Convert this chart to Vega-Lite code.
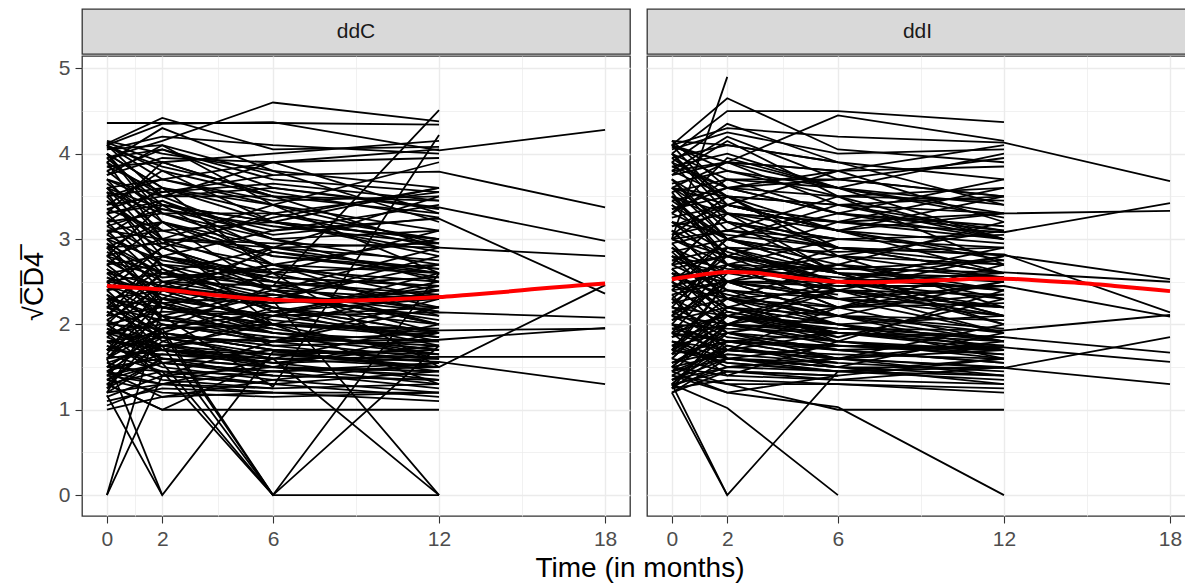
{
"$schema": "https://vega.github.io/schema/vega-lite/v6.json",
"background": "white",
"padding": {"left": 19, "top": 8, "right": 0, "bottom": 0},
"spacing": 15,
"title": {"text": "Time (in months)", "orient": "bottom", "anchor": "middle", "frame": "group", "fontSize": 28, "fontWeight": "normal", "color": "#000000", "font": "Liberation Sans", "offset": 5, "dx": 558},
"datasets": {
"C": [
{"i":1,"t":0,"y":4.36},{"i":1,"t":2,"y":4.36},{"i":1,"t":6,"y":4.36},{"i":1,"t":12,"y":4.34},
{"i":2,"t":0,"y":3.95},{"i":2,"t":2,"y":4.15},{"i":2,"t":6,"y":4.6},{"i":2,"t":12,"y":4.38},
{"i":3,"t":0,"y":4.12},{"i":3,"t":2,"y":4.42},{"i":3,"t":6,"y":4.05},{"i":3,"t":12,"y":4.08},
{"i":4,"t":0,"y":4.1},{"i":4,"t":2,"y":4.35},{"i":4,"t":6,"y":4.37},{"i":4,"t":12,"y":4.04},{"i":4,"t":18,"y":4.28},
{"i":5,"t":0,"y":2.9},{"i":5,"t":2,"y":2.6},{"i":5,"t":6,"y":2.45},{"i":5,"t":12,"y":4.51},
{"i":6,"t":0,"y":2.3},{"i":6,"t":2,"y":2.1},{"i":6,"t":6,"y":1.27},{"i":6,"t":12,"y":4.22},
{"i":7,"t":0,"y":4.05},{"i":7,"t":2,"y":4.1},{"i":7,"t":6,"y":3.75},{"i":7,"t":12,"y":3.79},{"i":7,"t":18,"y":3.37},
{"i":8,"t":0,"y":3.7},{"i":8,"t":2,"y":3.5},{"i":8,"t":6,"y":3.6},{"i":8,"t":12,"y":3.37},{"i":8,"t":18,"y":2.98},
{"i":9,"t":0,"y":3.1},{"i":9,"t":2,"y":3.0},{"i":9,"t":6,"y":2.95},{"i":9,"t":12,"y":2.9},{"i":9,"t":18,"y":2.8},
{"i":10,"t":0,"y":3.3},{"i":10,"t":2,"y":3.4},{"i":10,"t":6,"y":3.1},{"i":10,"t":12,"y":3.24},{"i":10,"t":18,"y":2.36},
{"i":11,"t":0,"y":1.9},{"i":11,"t":2,"y":1.7},{"i":11,"t":6,"y":1.6},{"i":11,"t":12,"y":1.5},{"i":11,"t":18,"y":2.46},
{"i":12,"t":0,"y":2.3},{"i":12,"t":2,"y":2.2},{"i":12,"t":6,"y":2.1},{"i":12,"t":12,"y":2.14},{"i":12,"t":18,"y":2.08},
{"i":13,"t":0,"y":2.0},{"i":13,"t":2,"y":1.95},{"i":13,"t":6,"y":2.0},{"i":13,"t":12,"y":1.93},{"i":13,"t":18,"y":1.95},
{"i":14,"t":0,"y":1.9},{"i":14,"t":2,"y":1.85},{"i":14,"t":6,"y":1.8},{"i":14,"t":12,"y":1.82},{"i":14,"t":18,"y":1.96},
{"i":15,"t":0,"y":1.7},{"i":15,"t":2,"y":1.65},{"i":15,"t":6,"y":1.6},{"i":15,"t":12,"y":1.62},{"i":15,"t":18,"y":1.62},
{"i":16,"t":0,"y":1.8},{"i":16,"t":2,"y":1.7},{"i":16,"t":6,"y":1.65},{"i":16,"t":12,"y":1.56},{"i":16,"t":18,"y":1.3},
{"i":17,"t":0,"y":0},{"i":17,"t":2,"y":2.2},{"i":17,"t":6,"y":2.0},{"i":17,"t":12,"y":1.9},
{"i":18,"t":0,"y":0},{"i":18,"t":2,"y":1.4},{"i":18,"t":6,"y":1.3},
{"i":19,"t":0,"y":1.17},{"i":19,"t":2,"y":0},{"i":19,"t":6,"y":1.68},{"i":19,"t":12,"y":1.5},
{"i":20,"t":0,"y":1.6},{"i":20,"t":2,"y":0},
{"i":21,"t":0,"y":1.0},{"i":21,"t":2,"y":1.15},{"i":21,"t":6,"y":1.2},{"i":21,"t":12,"y":1.2},
{"i":22,"t":0,"y":1.3},{"i":22,"t":2,"y":1.0},{"i":22,"t":6,"y":1.0},{"i":22,"t":12,"y":1.0},
{"i":23,"t":0,"y":2.0},{"i":23,"t":2,"y":1.55},{"i":23,"t":6,"y":0},{"i":23,"t":12,"y":0},
{"i":24,"t":0,"y":1.8},{"i":24,"t":2,"y":1.75},{"i":24,"t":6,"y":0},{"i":24,"t":12,"y":2.6},
{"i":25,"t":0,"y":2.2},{"i":25,"t":2,"y":1.9},{"i":25,"t":6,"y":0},
{"i":26,"t":0,"y":1.5},{"i":26,"t":2,"y":1.45},{"i":26,"t":6,"y":0},{"i":26,"t":12,"y":1.75},
{"i":27,"t":0,"y":2.5},{"i":27,"t":2,"y":2.4},{"i":27,"t":6,"y":2.28},{"i":27,"t":12,"y":0},
{"i":28,"t":0,"y":1.4},{"i":28,"t":2,"y":1.3},{"i":28,"t":6,"y":1.6},{"i":28,"t":12,"y":0},
{"i":29,"t":0,"y":4.15},{"i":29,"t":2,"y":4.0},{"i":29,"t":6,"y":3.8},{"i":29,"t":12,"y":3.6},
{"i":30,"t":0,"y":4.1},{"i":30,"t":2,"y":3.7},{"i":30,"t":6,"y":3.4},{"i":30,"t":12,"y":3.1},
{"i":31,"t":0,"y":4.05},{"i":31,"t":2,"y":4.2},{"i":31,"t":6,"y":4.1},{"i":31,"t":12,"y":4.0},
{"i":32,"t":0,"y":4.0},{"i":32,"t":2,"y":3.6},{"i":32,"t":6,"y":3.3},{"i":32,"t":12,"y":2.9},
{"i":33,"t":0,"y":3.95},{"i":33,"t":2,"y":4.05},{"i":33,"t":6,"y":3.7},{"i":33,"t":12,"y":3.55},
{"i":34,"t":0,"y":3.9},{"i":34,"t":2,"y":3.5},{"i":34,"t":6,"y":3.0},{"i":34,"t":12,"y":2.7},
{"i":35,"t":0,"y":3.85},{"i":35,"t":2,"y":3.9},{"i":35,"t":6,"y":3.5},
{"i":36,"t":0,"y":3.8},{"i":36,"t":2,"y":3.3},{"i":36,"t":6,"y":2.9},{"i":36,"t":12,"y":2.6},
{"i":37,"t":0,"y":3.75},{"i":37,"t":2,"y":3.95},{"i":37,"t":6,"y":3.9},{"i":37,"t":12,"y":3.95},
{"i":38,"t":0,"y":3.7},{"i":38,"t":2,"y":3.4},{"i":38,"t":6,"y":3.2},{"i":38,"t":12,"y":3.0},
{"i":39,"t":0,"y":3.65},{"i":39,"t":2,"y":3.2},{"i":39,"t":6,"y":2.7},{"i":39,"t":12,"y":2.4},
{"i":40,"t":0,"y":3.6},{"i":40,"t":2,"y":3.7},{"i":40,"t":6,"y":3.45},{"i":40,"t":12,"y":3.5},
{"i":41,"t":0,"y":3.55},{"i":41,"t":2,"y":3.3},
{"i":42,"t":0,"y":3.5},{"i":42,"t":2,"y":3.6},{"i":42,"t":6,"y":3.2},{"i":42,"t":12,"y":2.85},
{"i":43,"t":0,"y":3.45},{"i":43,"t":2,"y":3.0},{"i":43,"t":6,"y":2.6},{"i":43,"t":12,"y":2.2},
{"i":44,"t":0,"y":3.4},{"i":44,"t":2,"y":3.5},{"i":44,"t":6,"y":3.5},{"i":44,"t":12,"y":3.45},
{"i":45,"t":0,"y":3.35},{"i":45,"t":2,"y":3.1},{"i":45,"t":6,"y":2.8},{"i":45,"t":12,"y":2.65},
{"i":46,"t":0,"y":3.3},{"i":46,"t":2,"y":3.45},{"i":46,"t":6,"y":3.0},{"i":46,"t":12,"y":3.1},
{"i":47,"t":0,"y":3.25},{"i":47,"t":2,"y":2.9},{"i":47,"t":6,"y":2.5},{"i":47,"t":12,"y":2.0},
{"i":48,"t":0,"y":3.2},{"i":48,"t":2,"y":3.3},{"i":48,"t":6,"y":3.3},{"i":48,"t":12,"y":3.55},
{"i":49,"t":0,"y":3.15},{"i":49,"t":2,"y":2.8},{"i":49,"t":6,"y":2.6},
{"i":50,"t":0,"y":3.1},{"i":50,"t":2,"y":3.2},{"i":50,"t":6,"y":2.9},{"i":50,"t":12,"y":2.75},
{"i":51,"t":0,"y":3.05},{"i":51,"t":2,"y":2.7},{"i":51,"t":6,"y":2.4},{"i":51,"t":12,"y":2.3},
{"i":52,"t":0,"y":3.0},{"i":52,"t":2,"y":3.1},{"i":52,"t":6,"y":3.2},{"i":52,"t":12,"y":3.0},
{"i":53,"t":0,"y":2.95},{"i":53,"t":2,"y":2.6},{"i":53,"t":6,"y":2.2},{"i":53,"t":12,"y":1.9},
{"i":54,"t":0,"y":2.9},{"i":54,"t":2,"y":2.95},{"i":54,"t":6,"y":2.7},{"i":54,"t":12,"y":2.6},
{"i":55,"t":0,"y":2.85},{"i":55,"t":2,"y":2.5},{"i":55,"t":6,"y":2.3},{"i":55,"t":12,"y":2.1},
{"i":56,"t":0,"y":2.8},{"i":56,"t":2,"y":3.0},{"i":56,"t":6,"y":2.9},{"i":56,"t":12,"y":2.95},
{"i":57,"t":0,"y":2.75},{"i":57,"t":2,"y":2.4},{"i":57,"t":6,"y":2.0},
{"i":58,"t":0,"y":2.7},{"i":58,"t":2,"y":2.8},{"i":58,"t":6,"y":2.55},{"i":58,"t":12,"y":2.45},
{"i":59,"t":0,"y":2.65},{"i":59,"t":2,"y":2.3},{"i":59,"t":6,"y":2.1},{"i":59,"t":12,"y":1.85},
{"i":60,"t":0,"y":2.6},{"i":60,"t":2,"y":2.7},{"i":60,"t":6,"y":2.6},{"i":60,"t":12,"y":2.7},
{"i":61,"t":0,"y":2.55},{"i":61,"t":2,"y":2.2},{"i":61,"t":6,"y":1.9},{"i":61,"t":12,"y":1.7},
{"i":62,"t":0,"y":2.5},{"i":62,"t":2,"y":2.6},{"i":62,"t":6,"y":2.35},{"i":62,"t":12,"y":2.2},
{"i":63,"t":0,"y":2.45},{"i":63,"t":2,"y":2.1},
{"i":64,"t":0,"y":2.4},{"i":64,"t":2,"y":2.5},{"i":64,"t":6,"y":2.45},{"i":64,"t":12,"y":2.55},
{"i":65,"t":0,"y":2.35},{"i":65,"t":2,"y":2.0},{"i":65,"t":6,"y":1.8},{"i":65,"t":12,"y":1.6},
{"i":66,"t":0,"y":2.3},{"i":66,"t":2,"y":2.4},{"i":66,"t":6,"y":2.2},{"i":66,"t":12,"y":2.0},
{"i":67,"t":0,"y":2.25},{"i":67,"t":2,"y":1.9},{"i":67,"t":6,"y":1.7},{"i":67,"t":12,"y":1.45},
{"i":68,"t":0,"y":2.2},{"i":68,"t":2,"y":2.3},{"i":68,"t":6,"y":2.25},{"i":68,"t":12,"y":2.35},
{"i":69,"t":0,"y":2.15},{"i":69,"t":2,"y":1.85},{"i":69,"t":6,"y":1.6},
{"i":70,"t":0,"y":2.1},{"i":70,"t":2,"y":2.2},{"i":70,"t":6,"y":2.0},{"i":70,"t":12,"y":1.95},
{"i":71,"t":0,"y":2.05},{"i":71,"t":2,"y":1.75},{"i":71,"t":6,"y":1.55},{"i":71,"t":12,"y":1.35},
{"i":72,"t":0,"y":2.0},{"i":72,"t":2,"y":2.15},{"i":72,"t":6,"y":2.1},{"i":72,"t":12,"y":2.2},
{"i":73,"t":0,"y":1.95},{"i":73,"t":2,"y":1.7},{"i":73,"t":6,"y":1.5},{"i":73,"t":12,"y":1.4},
{"i":74,"t":0,"y":1.9},{"i":74,"t":2,"y":2.0},{"i":74,"t":6,"y":1.85},{"i":74,"t":12,"y":1.75},
{"i":75,"t":0,"y":1.85},{"i":75,"t":2,"y":1.6},
{"i":76,"t":0,"y":1.8},{"i":76,"t":2,"y":1.9},{"i":76,"t":6,"y":1.75},{"i":76,"t":12,"y":1.8},
{"i":77,"t":0,"y":1.75},{"i":77,"t":2,"y":1.5},{"i":77,"t":6,"y":1.35},{"i":77,"t":12,"y":1.2},
{"i":78,"t":0,"y":1.7},{"i":78,"t":2,"y":1.85},{"i":78,"t":6,"y":1.8},{"i":78,"t":12,"y":1.9},
{"i":79,"t":0,"y":1.65},{"i":79,"t":2,"y":1.45},{"i":79,"t":6,"y":1.3},{"i":79,"t":12,"y":1.15},
{"i":80,"t":0,"y":1.6},{"i":80,"t":2,"y":1.7},{"i":80,"t":6,"y":1.55},{"i":80,"t":12,"y":1.6},
{"i":81,"t":0,"y":1.55},{"i":81,"t":2,"y":1.35},{"i":81,"t":6,"y":1.25},
{"i":82,"t":0,"y":1.5},{"i":82,"t":2,"y":1.6},{"i":82,"t":6,"y":1.5},{"i":82,"t":12,"y":1.45},
{"i":83,"t":0,"y":1.45},{"i":83,"t":2,"y":1.3},{"i":83,"t":6,"y":1.2},{"i":83,"t":12,"y":1.1},
{"i":84,"t":0,"y":1.4},{"i":84,"t":2,"y":1.55},{"i":84,"t":6,"y":1.45},{"i":84,"t":12,"y":1.5},
{"i":85,"t":0,"y":1.35},{"i":85,"t":2,"y":1.2},{"i":85,"t":6,"y":1.15},{"i":85,"t":12,"y":1.2},
{"i":86,"t":0,"y":1.3},{"i":86,"t":2,"y":1.45},{"i":86,"t":6,"y":1.4},{"i":86,"t":12,"y":1.35},
{"i":87,"t":0,"y":1.2},{"i":87,"t":2,"y":1.3},{"i":87,"t":6,"y":1.25},{"i":87,"t":12,"y":1.3},
{"i":88,"t":0,"y":1.1},{"i":88,"t":2,"y":1.25},{"i":88,"t":6,"y":1.2},
{"i":89,"t":0,"y":2.0},{"i":89,"t":2,"y":2.6},{"i":89,"t":6,"y":2.3},{"i":89,"t":12,"y":2.8},
{"i":90,"t":0,"y":1.6},{"i":90,"t":2,"y":2.3},{"i":90,"t":6,"y":2.1},{"i":90,"t":12,"y":2.5},
{"i":91,"t":0,"y":2.4},{"i":91,"t":2,"y":1.8},{"i":91,"t":6,"y":2.2},{"i":91,"t":12,"y":1.9},
{"i":92,"t":0,"y":3.0},{"i":92,"t":2,"y":2.4},{"i":92,"t":6,"y":2.7},{"i":92,"t":12,"y":2.3},
{"i":93,"t":0,"y":1.4},{"i":93,"t":2,"y":2.0},{"i":93,"t":6,"y":1.8},{"i":93,"t":12,"y":2.2},
{"i":94,"t":0,"y":3.6},{"i":94,"t":2,"y":2.9},{"i":94,"t":6,"y":2.4},{"i":94,"t":12,"y":2.0},
{"i":95,"t":0,"y":4.0},{"i":95,"t":2,"y":3.3},{"i":95,"t":6,"y":3.0},{"i":95,"t":12,"y":2.5},
{"i":96,"t":0,"y":2.8},{"i":96,"t":2,"y":3.4},{"i":96,"t":6,"y":3.2},{"i":96,"t":12,"y":3.6},
{"i":97,"t":0,"y":1.9},{"i":97,"t":2,"y":2.5},{"i":97,"t":6,"y":2.7},{"i":97,"t":12,"y":3.0},
{"i":98,"t":0,"y":2.5},{"i":98,"t":2,"y":1.9},{"i":98,"t":6,"y":1.7},{"i":98,"t":12,"y":1.6},
{"i":99,"t":0,"y":3.3},{"i":99,"t":2,"y":2.7},{"i":99,"t":6,"y":2.2},{"i":99,"t":12,"y":1.8},
{"i":100,"t":0,"y":1.7},{"i":100,"t":2,"y":2.1},{"i":100,"t":6,"y":2.4},{"i":100,"t":12,"y":2.9},
{"i":101,"t":0,"y":4.1},{"i":101,"t":2,"y":3.8},{"i":101,"t":6,"y":3.2},{"i":101,"t":12,"y":2.8},
{"i":102,"t":0,"y":2.2},{"i":102,"t":2,"y":2.8},{"i":102,"t":6,"y":2.5},{"i":102,"t":12,"y":2.3},
{"i":103,"t":0,"y":1.5},{"i":103,"t":2,"y":1.9},{"i":103,"t":6,"y":1.7},{"i":103,"t":12,"y":1.65},
{"i":104,"t":0,"y":3.8},{"i":104,"t":2,"y":4.05},{"i":104,"t":6,"y":3.6},{"i":104,"t":12,"y":3.35},
{"i":105,"t":0,"y":2.6},{"i":105,"t":2,"y":2.1},{"i":105,"t":6,"y":1.9},{"i":105,"t":12,"y":1.7},
{"i":106,"t":0,"y":1.25},{"i":106,"t":2,"y":1.6},{"i":106,"t":6,"y":1.5},{"i":106,"t":12,"y":1.45},
{"i":107,"t":0,"y":3.4},{"i":107,"t":2,"y":3.8},{"i":107,"t":6,"y":3.5},{"i":107,"t":12,"y":3.3},
{"i":108,"t":0,"y":2.7},{"i":108,"t":2,"y":2.2},{"i":108,"t":6,"y":2.0},
{"i":109,"t":0,"y":1.45},{"i":109,"t":2,"y":1.85},{"i":109,"t":6,"y":1.6},
{"i":110,"t":0,"y":2.1},{"i":110,"t":2,"y":2.6},
{"i":111,"t":0,"y":3.2},{"i":111,"t":2,"y":3.6},{"i":111,"t":6,"y":3.4},{"i":111,"t":12,"y":3.9},
{"i":112,"t":0,"y":1.8},{"i":112,"t":2,"y":1.4},{"i":112,"t":6,"y":1.5},{"i":112,"t":12,"y":1.3},
{"i":113,"t":0,"y":2.9},{"i":113,"t":2,"y":3.2},{"i":113,"t":6,"y":2.8},{"i":113,"t":12,"y":2.6},
{"i":114,"t":0,"y":1.35},{"i":114,"t":2,"y":1.75},{"i":114,"t":6,"y":2.0},{"i":114,"t":12,"y":1.85},
{"i":115,"t":0,"y":4.13},{"i":115,"t":2,"y":3.9},{"i":115,"t":6,"y":4.0},{"i":115,"t":12,"y":4.15},
{"i":116,"t":0,"y":1.6},{"i":116,"t":2,"y":1.95},{"i":116,"t":6,"y":0},
{"i":117,"t":0,"y":4.0},{"i":117,"t":2,"y":3.6},{"i":117,"t":6,"y":2.6},{"i":117,"t":12,"y":1.5},
{"i":118,"t":0,"y":3.9},{"i":118,"t":2,"y":3.0},{"i":118,"t":6,"y":2.0},{"i":118,"t":12,"y":1.3},
{"i":119,"t":0,"y":1.2},{"i":119,"t":2,"y":2.3},{"i":119,"t":6,"y":2.9},{"i":119,"t":12,"y":3.5},
{"i":120,"t":0,"y":1.3},{"i":120,"t":2,"y":1.0},{"i":120,"t":6,"y":1.6},{"i":120,"t":12,"y":2.0},
{"i":121,"t":0,"y":3.5},{"i":121,"t":2,"y":3.7},{"i":121,"t":6,"y":3.9},{"i":121,"t":12,"y":4.05},
{"i":122,"t":0,"y":4.1},{"i":122,"t":2,"y":3.5},{"i":122,"t":6,"y":3.9},{"i":122,"t":12,"y":3.3},
{"i":123,"t":0,"y":3.9},{"i":123,"t":2,"y":4.3},{"i":123,"t":6,"y":3.8},{"i":123,"t":12,"y":3.2},
{"i":124,"t":0,"y":3.7},{"i":124,"t":2,"y":3.0},{"i":124,"t":6,"y":3.4},{"i":124,"t":12,"y":2.6},
{"i":125,"t":0,"y":3.5},{"i":125,"t":2,"y":2.8},{"i":125,"t":6,"y":3.1},{"i":125,"t":12,"y":3.4},
{"i":126,"t":0,"y":3.3},{"i":126,"t":2,"y":3.9},{"i":126,"t":6,"y":3.5},{"i":126,"t":12,"y":2.9},
{"i":127,"t":0,"y":3.1},{"i":127,"t":2,"y":2.5},{"i":127,"t":6,"y":2.0},{"i":127,"t":12,"y":2.4},
{"i":128,"t":0,"y":2.9},{"i":128,"t":2,"y":2.2},{"i":128,"t":6,"y":2.6},{"i":128,"t":12,"y":3.1},
{"i":129,"t":0,"y":2.7},{"i":129,"t":2,"y":3.2},{"i":129,"t":6,"y":2.4},{"i":129,"t":12,"y":2.0},
{"i":130,"t":0,"y":2.5},{"i":130,"t":2,"y":2.9},{"i":130,"t":6,"y":3.3},{"i":130,"t":12,"y":3.0},
{"i":131,"t":0,"y":2.3},{"i":131,"t":2,"y":1.7},{"i":131,"t":6,"y":2.1},{"i":131,"t":12,"y":2.6},
{"i":132,"t":0,"y":2.1},{"i":132,"t":2,"y":2.8},{"i":132,"t":6,"y":2.4},{"i":132,"t":12,"y":1.9},
{"i":133,"t":0,"y":1.9},{"i":133,"t":2,"y":1.4},{"i":133,"t":6,"y":1.8},{"i":133,"t":12,"y":2.3},
{"i":134,"t":0,"y":1.7},{"i":134,"t":2,"y":2.4},{"i":134,"t":6,"y":2.0},{"i":134,"t":12,"y":1.6},
{"i":135,"t":0,"y":1.5},{"i":135,"t":2,"y":1.9},{"i":135,"t":6,"y":2.3},{"i":135,"t":12,"y":2.7},
{"i":136,"t":0,"y":1.3},{"i":136,"t":2,"y":1.8},{"i":136,"t":6,"y":1.5},{"i":136,"t":12,"y":1.9},
{"i":137,"t":0,"y":4.0},{"i":137,"t":2,"y":3.2},{"i":137,"t":6,"y":2.8},
{"i":138,"t":0,"y":3.6},{"i":138,"t":2,"y":3.1},
{"i":139,"t":0,"y":3.2},{"i":139,"t":2,"y":2.6},{"i":139,"t":6,"y":2.9},
{"i":140,"t":0,"y":2.8},{"i":140,"t":2,"y":2.3},{"i":140,"t":6,"y":1.9},
{"i":141,"t":0,"y":2.4},{"i":141,"t":2,"y":2.9},{"i":141,"t":6,"y":2.5},
{"i":142,"t":0,"y":2.0},{"i":142,"t":2,"y":1.6},{"i":142,"t":6,"y":1.4},
{"i":143,"t":0,"y":1.6},{"i":143,"t":2,"y":2.1},{"i":143,"t":6,"y":1.8},
{"i":144,"t":0,"y":1.2},{"i":144,"t":2,"y":1.6},
{"i":145,"t":0,"y":3.95},{"i":145,"t":2,"y":3.4},{"i":145,"t":6,"y":2.7},{"i":145,"t":12,"y":2.1},
{"i":146,"t":0,"y":3.75},{"i":146,"t":2,"y":4.1},{"i":146,"t":6,"y":3.4},{"i":146,"t":12,"y":2.95},
{"i":147,"t":0,"y":3.45},{"i":147,"t":2,"y":2.95},{"i":147,"t":6,"y":3.25},{"i":147,"t":12,"y":3.6},
{"i":148,"t":0,"y":3.05},{"i":148,"t":2,"y":3.45},{"i":148,"t":6,"y":2.85},{"i":148,"t":12,"y":2.55},
{"i":149,"t":0,"y":2.65},{"i":149,"t":2,"y":2.05},{"i":149,"t":6,"y":2.35},{"i":149,"t":12,"y":2.05},
{"i":150,"t":0,"y":2.25},{"i":150,"t":2,"y":2.65},{"i":150,"t":6,"y":2.15},{"i":150,"t":12,"y":2.45},
{"i":151,"t":0,"y":1.85},{"i":151,"t":2,"y":2.25},{"i":151,"t":6,"y":1.95},{"i":151,"t":12,"y":1.65},
{"i":152,"t":0,"y":1.45},{"i":152,"t":2,"y":1.15},{"i":152,"t":6,"y":1.35},{"i":152,"t":12,"y":1.55},
{"i":153,"t":0,"y":2.35},{"i":153,"t":2,"y":1.55},{"i":153,"t":6,"y":1.45},{"i":153,"t":12,"y":1.25},
{"i":154,"t":0,"y":2.95},{"i":154,"t":2,"y":2.25},{"i":154,"t":6,"y":1.75},{"i":154,"t":12,"y":1.55},
{"i":155,"t":0,"y":3.55},{"i":155,"t":2,"y":2.65},{"i":155,"t":6,"y":2.15},{"i":155,"t":12,"y":1.75},
{"i":156,"t":0,"y":1.65},{"i":156,"t":2,"y":2.45},{"i":156,"t":6,"y":2.85},{"i":156,"t":12,"y":2.65},
{"i":157,"t":0,"y":1.25},{"i":157,"t":2,"y":1.95},{"i":157,"t":6,"y":2.45},{"i":157,"t":12,"y":2.15},
{"i":158,"t":0,"y":2.15},{"i":158,"t":2,"y":1.85},{"i":158,"t":6,"y":1.65},{"i":158,"t":12,"y":1.5},
{"i":159,"t":0,"y":2.55},{"i":159,"t":2,"y":2.35},{"i":159,"t":6,"y":2.05},{"i":159,"t":12,"y":1.85},
{"i":160,"t":0,"y":1.75},{"i":160,"t":2,"y":1.55},{"i":160,"t":6,"y":1.4},{"i":160,"t":12,"y":1.35},
{"i":161,"t":0,"y":1.95},{"i":161,"t":2,"y":1.75},{"i":161,"t":6,"y":1.85},{"i":161,"t":12,"y":1.65},
{"i":162,"t":0,"y":2.45},{"i":162,"t":2,"y":2.25},{"i":162,"t":6,"y":2.35},{"i":162,"t":12,"y":2.15},
{"i":163,"t":0,"y":3.15},{"i":163,"t":2,"y":3.35},{"i":163,"t":6,"y":3.05},{"i":163,"t":12,"y":3.25},
{"i":164,"t":0,"y":3.85},{"i":164,"t":2,"y":3.55},{"i":164,"t":6,"y":3.65},{"i":164,"t":12,"y":3.45},
{"i":165,"t":0,"y":2.05},{"i":165,"t":2,"y":2.45},{"i":165,"t":6,"y":2.25},{"i":165,"t":12,"y":2.4},
{"i":166,"t":0,"y":1.55},{"i":166,"t":2,"y":1.75},{"i":166,"t":6,"y":1.65},{"i":166,"t":12,"y":1.7},
{"i":167,"t":0,"y":2.75},{"i":167,"t":2,"y":2.55},{"i":167,"t":6,"y":2.65},{"i":167,"t":12,"y":2.5},
{"i":168,"t":0,"y":1.35},{"i":168,"t":2,"y":1.55},{"i":168,"t":6,"y":1.7},{"i":168,"t":12,"y":1.6},
{"i":169,"t":0,"y":1.15},{"i":169,"t":2,"y":1.4},{"i":169,"t":6,"y":1.3},{"i":169,"t":12,"y":1.45},
{"i":170,"t":0,"y":2.6},{"i":170,"t":2,"y":2.45},{"i":170,"t":6,"y":2.3},
{"i":171,"t":0,"y":1.9},{"i":171,"t":2,"y":2.05},{"i":171,"t":6,"y":1.95},
{"i":172,"t":0,"y":3.35},{"i":172,"t":2,"y":3.55},{"i":172,"t":6,"y":3.75},
{"i":173,"t":0,"y":4.08},{"i":173,"t":2,"y":3.85},{"i":173,"t":6,"y":3.55},{"i":173,"t":12,"y":3.25},
{"i":174,"t":0,"y":1.05},{"i":174,"t":2,"y":1.3},{"i":174,"t":6,"y":1.45},{"i":174,"t":12,"y":1.55},
{"i":175,"t":0,"y":2.8},{"i":175,"t":2,"y":2.6},{"i":175,"t":6,"y":2.5},{"i":175,"t":12,"y":2.35},
{"i":176,"t":0,"y":3.6},{"i":176,"t":2,"y":3.35},{"i":176,"t":6,"y":3.15},{"i":176,"t":12,"y":2.95},
{"i":177,"t":0,"y":1.45},{"i":177,"t":2,"y":1.65},{"i":177,"t":6,"y":1.55},{"i":177,"t":12,"y":1.75},
{"i":178,"t":0,"y":2.2},{"i":178,"t":2,"y":2.05},{"i":178,"t":6,"y":1.9},{"i":178,"t":12,"y":1.8},
{"i":179,"t":0,"y":1.7},{"i":179,"t":2,"y":1.95},{"i":179,"t":6,"y":2.15},{"i":179,"t":12,"y":2.3},
{"i":180,"t":0,"y":3.0},{"i":180,"t":2,"y":2.75},{"i":180,"t":6,"y":2.55},{"i":180,"t":12,"y":2.45}
],
"I": [
{"i":1,"t":0,"y":3.0},{"i":1,"t":2,"y":4.9},
{"i":2,"t":0,"y":4.1},{"i":2,"t":2,"y":4.65},{"i":2,"t":6,"y":4.05},{"i":2,"t":12,"y":3.9},
{"i":3,"t":0,"y":4.0},{"i":3,"t":2,"y":4.5},{"i":3,"t":6,"y":4.5},{"i":3,"t":12,"y":4.37},
{"i":4,"t":0,"y":3.8},{"i":4,"t":2,"y":3.9},{"i":4,"t":6,"y":4.45},{"i":4,"t":12,"y":4.15},
{"i":5,"t":0,"y":4.1},{"i":5,"t":2,"y":4.3},{"i":5,"t":6,"y":4.2},{"i":5,"t":12,"y":4.13},{"i":5,"t":18,"y":3.68},
{"i":6,"t":0,"y":3.5},{"i":6,"t":2,"y":3.3},{"i":6,"t":6,"y":3.2},{"i":6,"t":12,"y":3.08},{"i":6,"t":18,"y":3.42},
{"i":7,"t":0,"y":3.6},{"i":7,"t":2,"y":3.5},{"i":7,"t":6,"y":3.4},{"i":7,"t":12,"y":3.3},{"i":7,"t":18,"y":3.33},
{"i":8,"t":0,"y":3.0},{"i":8,"t":2,"y":3.1},{"i":8,"t":6,"y":2.9},{"i":8,"t":12,"y":2.81},{"i":8,"t":18,"y":2.53},
{"i":9,"t":0,"y":2.7},{"i":9,"t":2,"y":2.8},{"i":9,"t":6,"y":2.65},{"i":9,"t":12,"y":2.61},{"i":9,"t":18,"y":2.5},
{"i":10,"t":0,"y":3.2},{"i":10,"t":2,"y":3.05},{"i":10,"t":6,"y":2.9},{"i":10,"t":12,"y":2.82},{"i":10,"t":18,"y":2.14},
{"i":11,"t":0,"y":2.4},{"i":11,"t":2,"y":2.5},{"i":11,"t":6,"y":2.45},{"i":11,"t":12,"y":2.45},{"i":11,"t":18,"y":2.09},
{"i":12,"t":0,"y":1.8},{"i":12,"t":2,"y":1.7},{"i":12,"t":6,"y":1.6},{"i":12,"t":12,"y":1.49},{"i":12,"t":18,"y":1.85},
{"i":13,"t":0,"y":2.0},{"i":13,"t":2,"y":1.95},{"i":13,"t":6,"y":1.9},{"i":13,"t":12,"y":1.85},{"i":13,"t":18,"y":1.67},
{"i":14,"t":0,"y":1.9},{"i":14,"t":2,"y":1.8},{"i":14,"t":6,"y":1.75},{"i":14,"t":12,"y":1.73},{"i":14,"t":18,"y":1.56},
{"i":15,"t":0,"y":1.7},{"i":15,"t":2,"y":1.6},{"i":15,"t":6,"y":1.5},{"i":15,"t":12,"y":1.49},{"i":15,"t":18,"y":1.3},
{"i":16,"t":0,"y":2.1},{"i":16,"t":2,"y":2.0},{"i":16,"t":6,"y":1.95},{"i":16,"t":12,"y":1.93},{"i":16,"t":18,"y":2.11},
{"i":17,"t":0,"y":1.3},{"i":17,"t":2,"y":0},{"i":17,"t":6,"y":1.45},{"i":17,"t":12,"y":1.6},
{"i":18,"t":0,"y":1.2},{"i":18,"t":2,"y":0},
{"i":19,"t":0,"y":1.3},{"i":19,"t":2,"y":1.02},{"i":19,"t":6,"y":0},
{"i":20,"t":0,"y":1.4},{"i":20,"t":2,"y":1.2},{"i":20,"t":6,"y":1.03},{"i":20,"t":12,"y":0},
{"i":21,"t":0,"y":1.5},{"i":21,"t":2,"y":1.3},{"i":21,"t":6,"y":1.0},{"i":21,"t":12,"y":1.0},
{"i":22,"t":0,"y":4.15},{"i":22,"t":2,"y":4.1},{"i":22,"t":6,"y":3.9},{"i":22,"t":12,"y":3.7},
{"i":23,"t":0,"y":4.1},{"i":23,"t":2,"y":3.8},{"i":23,"t":6,"y":3.6},{"i":23,"t":12,"y":3.4},
{"i":24,"t":0,"y":4.05},{"i":24,"t":2,"y":4.25},{"i":24,"t":6,"y":4.0},{"i":24,"t":12,"y":4.05},
{"i":25,"t":0,"y":4.0},{"i":25,"t":2,"y":3.7},{"i":25,"t":6,"y":3.3},{"i":25,"t":12,"y":3.0},
{"i":26,"t":0,"y":3.95},{"i":26,"t":2,"y":4.1},{"i":26,"t":6,"y":3.9},
{"i":27,"t":0,"y":3.9},{"i":27,"t":2,"y":3.6},{"i":27,"t":6,"y":3.5},{"i":27,"t":12,"y":3.45},
{"i":28,"t":0,"y":3.85},{"i":28,"t":2,"y":4.0},{"i":28,"t":6,"y":3.6},{"i":28,"t":12,"y":3.25},
{"i":29,"t":0,"y":3.8},{"i":29,"t":2,"y":3.5},{"i":29,"t":6,"y":3.1},{"i":29,"t":12,"y":2.75},
{"i":30,"t":0,"y":3.75},{"i":30,"t":2,"y":3.9},{"i":30,"t":6,"y":3.8},{"i":30,"t":12,"y":3.85},
{"i":31,"t":0,"y":3.7},{"i":31,"t":2,"y":3.3},
{"i":32,"t":0,"y":3.65},{"i":32,"t":2,"y":3.8},{"i":32,"t":6,"y":3.5},{"i":32,"t":12,"y":3.6},
{"i":33,"t":0,"y":3.6},{"i":33,"t":2,"y":3.2},{"i":33,"t":6,"y":2.9},{"i":33,"t":12,"y":2.6},
{"i":34,"t":0,"y":3.55},{"i":34,"t":2,"y":3.7},{"i":34,"t":6,"y":3.7},{"i":34,"t":12,"y":3.95},
{"i":35,"t":0,"y":3.5},{"i":35,"t":2,"y":3.2},{"i":35,"t":6,"y":3.0},
{"i":36,"t":0,"y":3.45},{"i":36,"t":2,"y":3.6},{"i":36,"t":6,"y":3.3},{"i":36,"t":12,"y":3.15},
{"i":37,"t":0,"y":3.4},{"i":37,"t":2,"y":3.0},{"i":37,"t":6,"y":2.7},{"i":37,"t":12,"y":2.4},
{"i":38,"t":0,"y":3.35},{"i":38,"t":2,"y":3.5},{"i":38,"t":6,"y":3.4},{"i":38,"t":12,"y":3.5},
{"i":39,"t":0,"y":3.3},{"i":39,"t":2,"y":3.0},{"i":39,"t":6,"y":2.8},{"i":39,"t":12,"y":2.55},
{"i":40,"t":0,"y":3.25},{"i":40,"t":2,"y":3.4},{"i":40,"t":6,"y":3.1},{"i":40,"t":12,"y":2.95},
{"i":41,"t":0,"y":3.2},{"i":41,"t":2,"y":2.85},{"i":41,"t":6,"y":2.5},
{"i":42,"t":0,"y":3.15},{"i":42,"t":2,"y":3.3},{"i":42,"t":6,"y":3.2},{"i":42,"t":12,"y":3.3},
{"i":43,"t":0,"y":3.1},{"i":43,"t":2,"y":2.8},{"i":43,"t":6,"y":2.5},{"i":43,"t":12,"y":2.3},
{"i":44,"t":0,"y":3.05},{"i":44,"t":2,"y":3.2},{"i":44,"t":6,"y":3.0},{"i":44,"t":12,"y":2.9},
{"i":45,"t":0,"y":3.0},{"i":45,"t":2,"y":2.7},{"i":45,"t":6,"y":2.4},{"i":45,"t":12,"y":2.2},
{"i":46,"t":0,"y":2.95},{"i":46,"t":2,"y":3.1},{"i":46,"t":6,"y":3.0},{"i":46,"t":12,"y":3.05},
{"i":47,"t":0,"y":2.9},{"i":47,"t":2,"y":2.6},
{"i":48,"t":0,"y":2.85},{"i":48,"t":2,"y":3.0},{"i":48,"t":6,"y":2.8},{"i":48,"t":12,"y":2.7},
{"i":49,"t":0,"y":2.8},{"i":49,"t":2,"y":2.5},{"i":49,"t":6,"y":2.3},{"i":49,"t":12,"y":2.1},
{"i":50,"t":0,"y":2.75},{"i":50,"t":2,"y":2.9},{"i":50,"t":6,"y":2.85},{"i":50,"t":12,"y":2.9},
{"i":51,"t":0,"y":2.7},{"i":51,"t":2,"y":2.4},{"i":51,"t":6,"y":2.2},
{"i":52,"t":0,"y":2.65},{"i":52,"t":2,"y":2.8},{"i":52,"t":6,"y":2.6},{"i":52,"t":12,"y":2.55},
{"i":53,"t":0,"y":2.6},{"i":53,"t":2,"y":2.3},{"i":53,"t":6,"y":2.1},{"i":53,"t":12,"y":1.95},
{"i":54,"t":0,"y":2.55},{"i":54,"t":2,"y":2.7},{"i":54,"t":6,"y":2.65},{"i":54,"t":12,"y":2.75},
{"i":55,"t":0,"y":2.5},{"i":55,"t":2,"y":2.2},{"i":55,"t":6,"y":2.0},{"i":55,"t":12,"y":1.8},
{"i":56,"t":0,"y":2.45},{"i":56,"t":2,"y":2.6},{"i":56,"t":6,"y":2.4},{"i":56,"t":12,"y":2.35},
{"i":57,"t":0,"y":2.4},{"i":57,"t":2,"y":2.1},{"i":57,"t":6,"y":1.9},
{"i":58,"t":0,"y":2.35},{"i":58,"t":2,"y":2.5},{"i":58,"t":6,"y":2.5},{"i":58,"t":12,"y":2.6},
{"i":59,"t":0,"y":2.3},{"i":59,"t":2,"y":2.0},{"i":59,"t":6,"y":1.8},{"i":59,"t":12,"y":1.65},
{"i":60,"t":0,"y":2.25},{"i":60,"t":2,"y":2.4},{"i":60,"t":6,"y":2.3},{"i":60,"t":12,"y":2.2},
{"i":61,"t":0,"y":2.2},{"i":61,"t":2,"y":1.9},{"i":61,"t":6,"y":1.7},{"i":61,"t":12,"y":1.55},
{"i":62,"t":0,"y":2.15},{"i":62,"t":2,"y":2.3},{"i":62,"t":6,"y":2.2},{"i":62,"t":12,"y":2.25},
{"i":63,"t":0,"y":2.1},{"i":63,"t":2,"y":1.8},{"i":63,"t":6,"y":1.6},
{"i":64,"t":0,"y":2.05},{"i":64,"t":2,"y":2.2},{"i":64,"t":6,"y":2.1},{"i":64,"t":12,"y":2.05},
{"i":65,"t":0,"y":2.0},{"i":65,"t":2,"y":1.75},{"i":65,"t":6,"y":1.55},{"i":65,"t":12,"y":1.45},
{"i":66,"t":0,"y":1.95},{"i":66,"t":2,"y":2.1},{"i":66,"t":6,"y":2.0},{"i":66,"t":12,"y":2.1},
{"i":67,"t":0,"y":1.9},{"i":67,"t":2,"y":1.7},{"i":67,"t":6,"y":1.6},
{"i":68,"t":0,"y":1.85},{"i":68,"t":2,"y":2.0},{"i":68,"t":6,"y":1.9},{"i":68,"t":12,"y":1.85},
{"i":69,"t":0,"y":1.8},{"i":69,"t":2,"y":1.6},{"i":69,"t":6,"y":1.5},{"i":69,"t":12,"y":1.4},
{"i":70,"t":0,"y":1.75},{"i":70,"t":2,"y":1.9},{"i":70,"t":6,"y":1.8},
{"i":71,"t":0,"y":1.7},{"i":71,"t":2,"y":1.55},{"i":71,"t":6,"y":1.45},{"i":71,"t":12,"y":1.35},
{"i":72,"t":0,"y":1.65},{"i":72,"t":2,"y":1.8},{"i":72,"t":6,"y":1.75},{"i":72,"t":12,"y":1.7},
{"i":73,"t":0,"y":1.6},{"i":73,"t":2,"y":1.45},{"i":73,"t":6,"y":1.4},
{"i":74,"t":0,"y":1.55},{"i":74,"t":2,"y":1.7},{"i":74,"t":6,"y":1.65},{"i":74,"t":12,"y":1.6},
{"i":75,"t":0,"y":1.5},{"i":75,"t":2,"y":1.4},{"i":75,"t":6,"y":1.35},{"i":75,"t":12,"y":1.3},
{"i":76,"t":0,"y":1.45},{"i":76,"t":2,"y":1.6},{"i":76,"t":6,"y":1.55},
{"i":77,"t":0,"y":1.4},{"i":77,"t":2,"y":1.3},{"i":77,"t":6,"y":1.3},{"i":77,"t":12,"y":1.25},
{"i":78,"t":0,"y":1.35},{"i":78,"t":2,"y":1.5},{"i":78,"t":6,"y":1.45},{"i":78,"t":12,"y":1.5},
{"i":79,"t":0,"y":1.3},{"i":79,"t":2,"y":1.45},{"i":79,"t":6,"y":1.4},
{"i":80,"t":0,"y":1.25},{"i":80,"t":2,"y":1.35},{"i":80,"t":6,"y":1.3},{"i":80,"t":12,"y":1.2},
{"i":81,"t":0,"y":2.0},{"i":81,"t":2,"y":2.7},{"i":81,"t":6,"y":2.5},{"i":81,"t":12,"y":2.9},
{"i":82,"t":0,"y":1.6},{"i":82,"t":2,"y":2.2},{"i":82,"t":6,"y":2.0},
{"i":83,"t":0,"y":2.5},{"i":83,"t":2,"y":1.9},{"i":83,"t":6,"y":2.1},{"i":83,"t":12,"y":1.8},
{"i":84,"t":0,"y":3.1},{"i":84,"t":2,"y":2.5},{"i":84,"t":6,"y":2.7},{"i":84,"t":12,"y":2.3},
{"i":85,"t":0,"y":1.5},{"i":85,"t":2,"y":2.1},{"i":85,"t":6,"y":1.85},{"i":85,"t":12,"y":2.3},
{"i":86,"t":0,"y":3.7},{"i":86,"t":2,"y":3.0},{"i":86,"t":6,"y":2.6},{"i":86,"t":12,"y":2.1},
{"i":87,"t":0,"y":4.0},{"i":87,"t":2,"y":3.4},{"i":87,"t":6,"y":3.1},{"i":87,"t":12,"y":2.6},
{"i":88,"t":0,"y":2.7},{"i":88,"t":2,"y":3.3},{"i":88,"t":6,"y":3.1},{"i":88,"t":12,"y":3.5},
{"i":89,"t":0,"y":1.9},{"i":89,"t":2,"y":2.6},{"i":89,"t":6,"y":2.8},{"i":89,"t":12,"y":3.1},
{"i":90,"t":0,"y":2.6},{"i":90,"t":2,"y":2.0},{"i":90,"t":6,"y":1.8},{"i":90,"t":12,"y":1.7},
{"i":91,"t":0,"y":3.4},{"i":91,"t":2,"y":2.8},{"i":91,"t":6,"y":2.3},{"i":91,"t":12,"y":1.9},
{"i":92,"t":0,"y":1.7},{"i":92,"t":2,"y":2.2},{"i":92,"t":6,"y":2.5},{"i":92,"t":12,"y":2.8},
{"i":93,"t":0,"y":4.1},{"i":93,"t":2,"y":3.9},{"i":93,"t":6,"y":3.4},{"i":93,"t":12,"y":3.0},
{"i":94,"t":0,"y":2.2},{"i":94,"t":2,"y":2.9},{"i":94,"t":6,"y":2.6},
{"i":95,"t":0,"y":1.45},{"i":95,"t":2,"y":2.0},{"i":95,"t":6,"y":1.75},
{"i":96,"t":0,"y":3.8},{"i":96,"t":2,"y":4.2},{"i":96,"t":6,"y":3.7},{"i":96,"t":12,"y":3.5},
{"i":97,"t":0,"y":2.65},{"i":97,"t":2,"y":2.15},{"i":97,"t":6,"y":1.9},{"i":97,"t":12,"y":1.75},
{"i":98,"t":0,"y":1.3},{"i":98,"t":2,"y":1.8},{"i":98,"t":6,"y":1.6},{"i":98,"t":12,"y":1.5},
{"i":99,"t":0,"y":3.3},{"i":99,"t":2,"y":3.7},{"i":99,"t":6,"y":3.6},{"i":99,"t":12,"y":4.0},
{"i":100,"t":0,"y":2.85},{"i":100,"t":2,"y":2.3},{"i":100,"t":6,"y":2.1},
{"i":101,"t":0,"y":1.65},{"i":101,"t":2,"y":2.1},{"i":101,"t":6,"y":1.8},
{"i":102,"t":0,"y":3.9},{"i":102,"t":2,"y":3.2},{"i":102,"t":6,"y":2.6},{"i":102,"t":12,"y":2.0},
{"i":103,"t":0,"y":2.3},{"i":103,"t":2,"y":2.8},{"i":103,"t":6,"y":2.6},{"i":103,"t":12,"y":2.4},
{"i":104,"t":0,"y":1.8},{"i":104,"t":2,"y":1.5},{"i":104,"t":6,"y":1.6},{"i":104,"t":12,"y":1.4},
{"i":105,"t":0,"y":3.0},{"i":105,"t":2,"y":3.4},{"i":105,"t":6,"y":3.1},{"i":105,"t":12,"y":2.8},
{"i":106,"t":0,"y":1.35},{"i":106,"t":2,"y":1.7},{"i":106,"t":6,"y":1.9},{"i":106,"t":12,"y":1.8},
{"i":107,"t":0,"y":3.6},{"i":107,"t":2,"y":3.9},{"i":107,"t":6,"y":3.8},{"i":107,"t":12,"y":4.1},
{"i":108,"t":0,"y":2.1},{"i":108,"t":2,"y":2.5},
{"i":109,"t":0,"y":4.15},{"i":109,"t":2,"y":3.6},{"i":109,"t":6,"y":3.3},{"i":109,"t":12,"y":3.1},
{"i":110,"t":0,"y":1.2},{"i":110,"t":2,"y":1.6},{"i":110,"t":6,"y":1.5},
{"i":111,"t":0,"y":1.55},{"i":111,"t":2,"y":1.9},{"i":111,"t":6,"y":1.7},
{"i":112,"t":0,"y":1.75},{"i":112,"t":2,"y":2.15},{"i":112,"t":6,"y":1.9},
{"i":113,"t":0,"y":2.9},{"i":113,"t":2,"y":2.4},{"i":113,"t":6,"y":2.0},{"i":113,"t":12,"y":1.6},
{"i":114,"t":0,"y":3.5},{"i":114,"t":2,"y":2.9},{"i":114,"t":6,"y":2.4},{"i":114,"t":12,"y":1.9},
{"i":115,"t":0,"y":1.4},{"i":115,"t":2,"y":1.75},{"i":115,"t":6,"y":1.5},{"i":115,"t":12,"y":1.9},
{"i":116,"t":0,"y":4.1},{"i":116,"t":2,"y":3.4},{"i":116,"t":6,"y":3.8},{"i":116,"t":12,"y":3.2},
{"i":117,"t":0,"y":3.9},{"i":117,"t":2,"y":4.35},{"i":117,"t":6,"y":3.9},{"i":117,"t":12,"y":3.4},
{"i":118,"t":0,"y":3.7},{"i":118,"t":2,"y":3.1},{"i":118,"t":6,"y":3.5},{"i":118,"t":12,"y":2.7},
{"i":119,"t":0,"y":3.5},{"i":119,"t":2,"y":2.8},{"i":119,"t":6,"y":3.2},{"i":119,"t":12,"y":3.6},
{"i":120,"t":0,"y":3.3},{"i":120,"t":2,"y":3.95},{"i":120,"t":6,"y":3.6},{"i":120,"t":12,"y":3.0},
{"i":121,"t":0,"y":3.1},{"i":121,"t":2,"y":2.5},{"i":121,"t":6,"y":2.1},{"i":121,"t":12,"y":2.5},
{"i":122,"t":0,"y":2.9},{"i":122,"t":2,"y":2.3},{"i":122,"t":6,"y":2.7},{"i":122,"t":12,"y":3.2},
{"i":123,"t":0,"y":2.7},{"i":123,"t":2,"y":3.3},{"i":123,"t":6,"y":2.6},{"i":123,"t":12,"y":2.1},
{"i":124,"t":0,"y":2.5},{"i":124,"t":2,"y":3.0},{"i":124,"t":6,"y":3.4},{"i":124,"t":12,"y":3.1},
{"i":125,"t":0,"y":2.3},{"i":125,"t":2,"y":1.7},{"i":125,"t":6,"y":2.2},{"i":125,"t":12,"y":2.7},
{"i":126,"t":0,"y":2.1},{"i":126,"t":2,"y":2.9},{"i":126,"t":6,"y":2.5},{"i":126,"t":12,"y":2.0},
{"i":127,"t":0,"y":1.9},{"i":127,"t":2,"y":1.4},{"i":127,"t":6,"y":1.8},{"i":127,"t":12,"y":2.4},
{"i":128,"t":0,"y":1.7},{"i":128,"t":2,"y":2.5},{"i":128,"t":6,"y":2.1},{"i":128,"t":12,"y":1.7},
{"i":129,"t":0,"y":1.5},{"i":129,"t":2,"y":2.0},{"i":129,"t":6,"y":2.4},{"i":129,"t":12,"y":2.8},
{"i":130,"t":0,"y":1.3},{"i":130,"t":2,"y":1.9},{"i":130,"t":6,"y":1.6},{"i":130,"t":12,"y":2.0},
{"i":131,"t":0,"y":4.0},{"i":131,"t":2,"y":3.3},{"i":131,"t":6,"y":2.9},
{"i":132,"t":0,"y":3.6},{"i":132,"t":2,"y":3.0},
{"i":133,"t":0,"y":3.2},{"i":133,"t":2,"y":2.7},{"i":133,"t":6,"y":3.0},
{"i":134,"t":0,"y":2.8},{"i":134,"t":2,"y":2.2},{"i":134,"t":6,"y":1.9},
{"i":135,"t":0,"y":2.4},{"i":135,"t":2,"y":3.0},{"i":135,"t":6,"y":2.6},
{"i":136,"t":0,"y":2.0},{"i":136,"t":2,"y":1.6},{"i":136,"t":6,"y":1.45},
{"i":137,"t":0,"y":1.6},{"i":137,"t":2,"y":2.2},{"i":137,"t":6,"y":1.85},
{"i":138,"t":0,"y":1.25},{"i":138,"t":2,"y":1.7},
{"i":139,"t":0,"y":3.95},{"i":139,"t":2,"y":3.5},{"i":139,"t":6,"y":2.8},{"i":139,"t":12,"y":2.2},
{"i":140,"t":0,"y":3.75},{"i":140,"t":2,"y":4.15},{"i":140,"t":6,"y":3.5},{"i":140,"t":12,"y":3.0},
{"i":141,"t":0,"y":3.45},{"i":141,"t":2,"y":3.0},{"i":141,"t":6,"y":3.3},{"i":141,"t":12,"y":3.7},
{"i":142,"t":0,"y":3.05},{"i":142,"t":2,"y":3.5},{"i":142,"t":6,"y":2.9},{"i":142,"t":12,"y":2.6},
{"i":143,"t":0,"y":2.65},{"i":143,"t":2,"y":2.1},{"i":143,"t":6,"y":2.4},{"i":143,"t":12,"y":2.1},
{"i":144,"t":0,"y":2.25},{"i":144,"t":2,"y":2.7},{"i":144,"t":6,"y":2.2},{"i":144,"t":12,"y":2.5},
{"i":145,"t":0,"y":1.85},{"i":145,"t":2,"y":2.3},{"i":145,"t":6,"y":2.0},{"i":145,"t":12,"y":1.7},
{"i":146,"t":0,"y":1.45},{"i":146,"t":2,"y":1.2},{"i":146,"t":6,"y":1.4},{"i":146,"t":12,"y":1.6},
{"i":147,"t":0,"y":2.35},{"i":147,"t":2,"y":1.6},{"i":147,"t":6,"y":1.5},{"i":147,"t":12,"y":1.3},
{"i":148,"t":0,"y":2.95},{"i":148,"t":2,"y":2.3},{"i":148,"t":6,"y":1.8},{"i":148,"t":12,"y":1.6},
{"i":149,"t":0,"y":3.55},{"i":149,"t":2,"y":2.7},{"i":149,"t":6,"y":2.2},{"i":149,"t":12,"y":1.8},
{"i":150,"t":0,"y":1.65},{"i":150,"t":2,"y":2.5},{"i":150,"t":6,"y":2.9},{"i":150,"t":12,"y":2.7},
{"i":151,"t":0,"y":1.25},{"i":151,"t":2,"y":2.0},{"i":151,"t":6,"y":2.5},{"i":151,"t":12,"y":2.2},
{"i":152,"t":0,"y":2.15},{"i":152,"t":2,"y":1.85},{"i":152,"t":6,"y":1.7},{"i":152,"t":12,"y":1.55},
{"i":153,"t":0,"y":2.55},{"i":153,"t":2,"y":2.35},{"i":153,"t":6,"y":2.1},{"i":153,"t":12,"y":1.9},
{"i":154,"t":0,"y":1.75},{"i":154,"t":2,"y":1.55},{"i":154,"t":6,"y":1.45},{"i":154,"t":12,"y":1.4},
{"i":155,"t":0,"y":1.95},{"i":155,"t":2,"y":1.8},{"i":155,"t":6,"y":1.9},{"i":155,"t":12,"y":1.7},
{"i":156,"t":0,"y":2.45},{"i":156,"t":2,"y":2.3},{"i":156,"t":6,"y":2.4},{"i":156,"t":12,"y":2.2},
{"i":157,"t":0,"y":3.15},{"i":157,"t":2,"y":3.4},{"i":157,"t":6,"y":3.1},{"i":157,"t":12,"y":3.3},
{"i":158,"t":0,"y":3.85},{"i":158,"t":2,"y":3.6},{"i":158,"t":6,"y":3.7},{"i":158,"t":12,"y":3.5},
{"i":159,"t":0,"y":2.05},{"i":159,"t":2,"y":2.5},{"i":159,"t":6,"y":2.3},{"i":159,"t":12,"y":2.45},
{"i":160,"t":0,"y":1.55},{"i":160,"t":2,"y":1.8},{"i":160,"t":6,"y":1.7},{"i":160,"t":12,"y":1.75},
{"i":161,"t":0,"y":2.75},{"i":161,"t":2,"y":2.6},{"i":161,"t":6,"y":2.7},{"i":161,"t":12,"y":2.55},
{"i":162,"t":0,"y":1.35},{"i":162,"t":2,"y":1.6},{"i":162,"t":6,"y":1.75},{"i":162,"t":12,"y":1.65},
{"i":163,"t":0,"y":1.2},{"i":163,"t":2,"y":1.45},{"i":163,"t":6,"y":1.35},{"i":163,"t":12,"y":1.5},
{"i":164,"t":0,"y":2.6},{"i":164,"t":2,"y":2.5},{"i":164,"t":6,"y":2.35},
{"i":165,"t":0,"y":1.9},{"i":165,"t":2,"y":2.1},{"i":165,"t":6,"y":2.0},
{"i":166,"t":0,"y":3.35},{"i":166,"t":2,"y":3.6},{"i":166,"t":6,"y":3.8},
{"i":167,"t":0,"y":4.08},{"i":167,"t":2,"y":3.9},{"i":167,"t":6,"y":3.6},{"i":167,"t":12,"y":3.3},
{"i":168,"t":0,"y":1.28},{"i":168,"t":2,"y":1.5},{"i":168,"t":6,"y":1.6},{"i":168,"t":12,"y":1.7},
{"i":169,"t":0,"y":2.8},{"i":169,"t":2,"y":2.65},{"i":169,"t":6,"y":2.55},{"i":169,"t":12,"y":2.4},
{"i":170,"t":0,"y":3.6},{"i":170,"t":2,"y":3.4},{"i":170,"t":6,"y":3.2},{"i":170,"t":12,"y":3.0},
{"i":171,"t":0,"y":1.45},{"i":171,"t":2,"y":1.7},{"i":171,"t":6,"y":1.6},{"i":171,"t":12,"y":1.8},
{"i":172,"t":0,"y":2.2},{"i":172,"t":2,"y":2.1},{"i":172,"t":6,"y":1.95},{"i":172,"t":12,"y":1.85},
{"i":173,"t":0,"y":1.7},{"i":173,"t":2,"y":2.0},{"i":173,"t":6,"y":2.2},{"i":173,"t":12,"y":2.35},
{"i":174,"t":0,"y":3.0},{"i":174,"t":2,"y":2.8},{"i":174,"t":6,"y":2.6},{"i":174,"t":12,"y":2.5},
{"i":175,"t":0,"y":1.5},{"i":175,"t":2,"y":1.65},{"i":175,"t":6,"y":1.55}
],
"sC": [
{"t":0,"y":2.45},{"t":1,"y":2.43},{"t":2,"y":2.41},{"t":3,"y":2.375},{"t":4,"y":2.34},{"t":5,"y":2.31},{"t":6,"y":2.29},{"t":7,"y":2.28},{"t":8,"y":2.275},{"t":9,"y":2.28},{"t":10,"y":2.29},{"t":11,"y":2.305},{"t":12,"y":2.32},{"t":13,"y":2.345},{"t":14,"y":2.37},{"t":15,"y":2.4},{"t":16,"y":2.43},{"t":17,"y":2.455},{"t":18,"y":2.48}
],
"sI": [
{"t":0,"y":2.53},{"t":1,"y":2.58},{"t":2,"y":2.615},{"t":3,"y":2.605},{"t":4,"y":2.565},{"t":5,"y":2.525},{"t":6,"y":2.5},{"t":7,"y":2.495},{"t":8,"y":2.5},{"t":9,"y":2.51},{"t":10,"y":2.52},{"t":11,"y":2.535},{"t":12,"y":2.535},{"t":13,"y":2.52},{"t":14,"y":2.5},{"t":15,"y":2.48},{"t":16,"y":2.45},{"t":17,"y":2.42},{"t":18,"y":2.39}
]
},
"hconcat": [
{"spacing": 0, "vconcat": [
 {"width": 548, "height": 45, "data": {"values": [{"p": "ddC"}]},
  "view": {"fill": "#D9D9D9", "stroke": "#333333", "strokeWidth": 1.3},
  "mark": {"type": "text", "fontSize": 21, "color": "#1A1A1A", "font": "Liberation Sans"},
  "encoding": {"text": {"field": "p"}}},
 {"width": 548, "height": 460,
  "view": {"stroke": "#333333", "strokeWidth": 1.3},
  "layer": [
   {"data": {"name": "C"}, "mark": {"type": "line", "color": "#000000", "strokeWidth": 1.8},
    "encoding": {
     "x": {"field": "t", "type": "quantitative", "scale": {"domain": [-0.9, 18.9], "nice": false, "zero": false},
       "axis": {"title": null, "values": [0,1,2,4,6,9,12,15,18], "labelExpr": "indexof([0,2,6,12,18], datum.value) >= 0 ? '' + datum.value : ''",
         "tickOpacity": {"condition": {"test": "indexof([0,2,6,12,18], datum.value) >= 0", "value": 1}, "value": 0},
         "gridWidth": {"condition": {"test": "indexof([0,2,6,12,18], datum.value) >= 0", "value": 1.4}, "value": 0.7}}},
     "y": {"field": "y", "type": "quantitative", "scale": {"domain": [-0.245, 5.145], "nice": false, "zero": false},
       "axis": {"title": "√C̅D̅4̅", "values": [0,0.5,1,1.5,2,2.5,3,3.5,4,4.5,5], "labelExpr": "datum.value % 1 === 0 ? '' + datum.value : ''",
         "tickOpacity": {"condition": {"test": "datum.value % 1 === 0", "value": 1}, "value": 0},
         "gridWidth": {"condition": {"test": "datum.value % 1 === 0", "value": 1.4}, "value": 0.7}}},
     "detail": {"field": "i"}}},
   {"data": {"name": "sC"}, "mark": {"type": "line", "color": "#FF0000", "strokeWidth": 4, "interpolate": "monotone"},
    "encoding": {"x": {"field": "t", "type": "quantitative"}, "y": {"field": "y", "type": "quantitative"}}}
  ]}
]},
{"spacing": 0, "vconcat": [
 {"width": 541, "height": 45, "data": {"values": [{"p": "ddI"}]},
  "view": {"fill": "#D9D9D9", "stroke": "#333333", "strokeWidth": 1.3},
  "mark": {"type": "text", "fontSize": 21, "color": "#1A1A1A", "font": "Liberation Sans"},
  "encoding": {"text": {"field": "p"}}},
 {"width": 541, "height": 460,
  "view": {"stroke": "#333333", "strokeWidth": 1.3},
  "layer": [
   {"data": {"name": "I"}, "mark": {"type": "line", "color": "#000000", "strokeWidth": 1.8},
    "encoding": {
     "x": {"field": "t", "type": "quantitative", "scale": {"domain": [-0.9, 18.65], "nice": false, "zero": false},
       "axis": {"title": null, "values": [0,1,2,4,6,9,12,15,18], "labelExpr": "indexof([0,2,6,12,18], datum.value) >= 0 ? '' + datum.value : ''",
         "tickOpacity": {"condition": {"test": "indexof([0,2,6,12,18], datum.value) >= 0", "value": 1}, "value": 0},
         "gridWidth": {"condition": {"test": "indexof([0,2,6,12,18], datum.value) >= 0", "value": 1.4}, "value": 0.7}}},
     "y": {"field": "y", "type": "quantitative", "scale": {"domain": [-0.245, 5.145], "nice": false, "zero": false},
       "axis": {"title": null, "labels": false, "ticks": false, "values": [0,0.5,1,1.5,2,2.5,3,3.5,4,4.5,5],
         "gridWidth": {"condition": {"test": "datum.value % 1 === 0", "value": 1.4}, "value": 0.7}}},
     "detail": {"field": "i"}}},
   {"data": {"name": "sI"}, "mark": {"type": "line", "color": "#FF0000", "strokeWidth": 4, "interpolate": "monotone"},
    "encoding": {"x": {"field": "t", "type": "quantitative"}, "y": {"field": "y", "type": "quantitative"}}}
  ]}
]}
],
"config": {
 "font": "Liberation Sans",
 "view": {"stroke": null},
 "axis": {"domain": false, "labelFont": "Liberation Sans", "labelFontSize": 21, "labelColor": "#4D4D4D", "tickColor": "#333333", "tickSize": 7, "tickWidth": 1.1, "labelPadding": 5, "labelFlush": false, "labelOverlap": false, "gridColor": "#EBEBEB", "titleFont": "Liberation Sans", "titleFontSize": 27, "titleFontWeight": "normal", "titleColor": "#000000", "titlePadding": 10}
}
}
